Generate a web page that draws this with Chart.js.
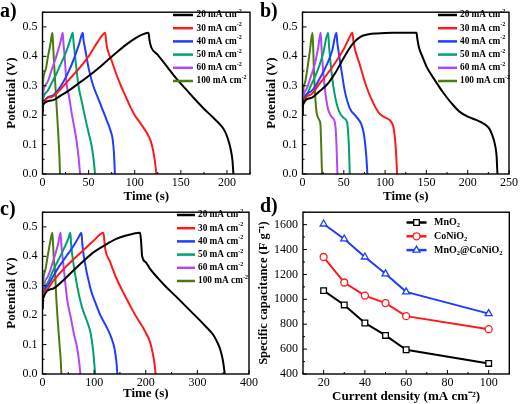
<!DOCTYPE html>
<html>
<head>
<meta charset="utf-8">
<script src="https://cdn.jsdelivr.net/npm/chart.js@4.4.0/dist/chart.umd.min.js"></script>
<style>
  body { margin: 0; background: #fff; }
  #wrap { position: relative; width: 520px; height: 404px; background: #fff; overflow: hidden; }
  canvas { position: absolute; }
  .tag { position: absolute; font: bold 20px "Liberation Serif", serif; line-height: 20px; color: #000; }
</style>
</head>
<body>
<div id="wrap">
  <canvas id="chart-a" width="260" height="204" style="left:0;top:0"></canvas>
  <canvas id="chart-b" width="260" height="204" style="left:260px;top:0"></canvas>
  <canvas id="chart-c" width="260" height="204" style="left:0;top:200px"></canvas>
  <canvas id="chart-d" width="266" height="204" style="left:254px;top:200px"></canvas>
  <div class="tag" style="left:0;top:0">a)</div>
  <div class="tag" style="left:260px;top:0">b)</div>
  <div class="tag" style="left:0;top:198px">c)</div>
  <div class="tag" style="left:260px;top:195px">d)</div>
</div>
<script>
/*
 * charge / discharge curves (time s, potential V)
 */

// a) MnO2
const a20 = [[0,0.21],[0.5,0.235],[10,0.25],[20,0.267],[30,0.287],[40,0.31],[50,0.333],[60,0.358],[70,0.385],[80,0.412],[90,0.438],[100,0.46],[108,0.474],[115,0.48],[116,0.455],[118,0.43],[125,0.405],[135,0.365],[145,0.325],[155,0.29],[165,0.255],[175,0.222],[185,0.192],[192,0.17],[197,0.15],[201,0.12],[204,0.085],[206,0.045],[207,0]];
const a30 = [[0,0.2],[0.5,0.235],[10,0.262],[20,0.29],[30,0.325],[40,0.36],[50,0.4],[55,0.425],[60,0.45],[65,0.472],[68,0.48],[69,0.45],[70,0.43],[75,0.385],[80,0.34],[85,0.3],[90,0.265],[95,0.23],[100,0.2],[105,0.178],[110,0.155],[114,0.135],[117,0.115],[120,0.08],[122,0.04],[123.5,0]];
const a40 = [[0,0.2],[0.5,0.235],[10,0.265],[20,0.3],[30,0.36],[35,0.4],[40,0.445],[43.6,0.48],[44.5,0.455],[46,0.43],[50,0.36],[55,0.3],[60,0.26],[65,0.22],[70,0.18],[74,0.145],[76,0.12],[77.5,0.07],[78.5,0]];
const a50 = [[0,0.22],[0.5,0.25],[5,0.28],[10,0.31],[15,0.34],[20,0.375],[25,0.41],[30,0.455],[32.8,0.48],[33.5,0.455],[35,0.41],[39,0.3],[43,0.24],[46,0.195],[50,0.14],[53,0.1],[55,0.06],[57,0]];
const a60 = [[0,0.22],[0.5,0.27],[5,0.31],[10,0.355],[15,0.4],[20,0.455],[21.9,0.48],[22.6,0.45],[24,0.4],[26,0.31],[29,0.26],[32,0.2],[35,0.15],[37,0.11],[39,0.06],[40.8,0]];
const a100 = [[0,0.2],[0.3,0.3],[3,0.35],[6,0.4],[9,0.45],[10.7,0.48],[11.5,0.44],[12.5,0.38],[14,0.3],[15.5,0.22],[17,0.14],[18.2,0.07],[19,0]];

// b) CoNiO2
const b20 = [[0,0.2],[0.5,0.235],[10,0.258],[20,0.28],[30,0.305],[40,0.345],[50,0.395],[60,0.44],[70,0.466],[80,0.475],[90,0.478],[110,0.48],[138,0.48],[139,0.46],[141,0.43],[145,0.4],[150,0.366],[160,0.32],[170,0.278],[180,0.242],[190,0.212],[200,0.195],[210,0.184],[220,0.17],[226,0.155],[230,0.13],[233,0.1],[235,0.06],[236,0]];
const b30 = [[0,0.2],[0.5,0.235],[10,0.27],[20,0.305],[30,0.34],[40,0.38],[50,0.425],[57,0.465],[60.4,0.48],[61.5,0.455],[63,0.43],[69,0.375],[77,0.3],[85,0.245],[93,0.206],[100,0.192],[106,0.182],[110,0.16],[112,0.12],[113.5,0.06],[114.5,0]];
const b40 = [[0,0.2],[0.5,0.235],[10,0.28],[20,0.32],[30,0.375],[36,0.42],[41,0.48],[42,0.45],[44,0.41],[47,0.355],[51,0.285],[57,0.225],[65,0.195],[71,0.17],[74,0.14],[76,0.1],[77.5,0.05],[78.5,0]];
const b50 = [[0,0.2],[0.5,0.24],[5,0.27],[10,0.3],[15,0.33],[20,0.365],[25,0.41],[31,0.48],[32,0.44],[35,0.35],[39,0.27],[44,0.215],[50,0.19],[54,0.175],[55.5,0.13],[56.5,0.07],[57.2,0]];
const b60 = [[0,0.2],[0.5,0.245],[5,0.29],[10,0.33],[15,0.375],[19,0.43],[22,0.48],[23,0.43],[25,0.35],[28,0.27],[31,0.22],[35,0.195],[39,0.178],[40.5,0.14],[41.5,0.07],[42.3,0]];
const b100 = [[0,0.2],[0.3,0.26],[3,0.31],[6,0.36],[9,0.42],[12,0.48],[12.8,0.44],[14,0.34],[15.5,0.26],[17,0.21],[20,0.185],[21.8,0.165],[22.6,0.1],[23.2,0.04],[23.6,0]];

// c) MnO2@CoNiO2
const c20 = [[0,0.22],[1,0.255],[20,0.29],[40,0.318],[60,0.352],[80,0.385],[100,0.415],[120,0.437],[144,0.46],[160,0.47],[176,0.477],[189,0.48],[191,0.45],[193,0.4],[200,0.38],[208,0.358],[224,0.325],[240,0.295],[256,0.268],[272,0.24],[288,0.212],[304,0.184],[318,0.158],[330,0.135],[338,0.11],[344,0.085],[349,0.05],[352,0.015],[353,0]];
const c30 = [[0,0.22],[1,0.255],[10,0.29],[20,0.315],[40,0.355],[60,0.39],[80,0.422],[100,0.455],[118,0.48],[120,0.45],[122,0.42],[130,0.385],[144,0.322],[160,0.265],[176,0.212],[186,0.182],[195,0.157],[203,0.13],[208,0.11],[213,0.075],[217,0.035],[219,0]];
const c40 = [[0,0.22],[1,0.26],[10,0.3],[20,0.33],[30,0.36],[40,0.385],[50,0.41],[60,0.435],[70,0.465],[75.5,0.48],[77,0.445],[80,0.4],[93,0.29],[103,0.24],[112,0.2],[125,0.157],[134,0.12],[139,0.09],[143,0.045],[145,0]];
const c50 = [[0,0.22],[1,0.265],[10,0.31],[20,0.35],[30,0.385],[40,0.42],[50,0.46],[54,0.48],[55.5,0.44],[58,0.4],[67,0.3],[76,0.23],[86,0.18],[93,0.14],[98,0.08],[102,0]];
const c60 = [[0,0.22],[1,0.275],[10,0.33],[20,0.38],[30,0.44],[35,0.48],[36.5,0.44],[40,0.38],[48,0.25],[55,0.19],[61,0.135],[67,0.09],[71,0.04],[73.5,0]];
const c100 = [[0,0.22],[0.7,0.3],[5,0.35],[10,0.4],[15,0.45],[19,0.48],[20.5,0.44],[22,0.39],[24,0.355],[27,0.25],[30,0.17],[33,0.1],[35.5,0.04],[36.5,0]];

// d) specific capacitance vs current density
const densities = [20, 30, 40, 50, 60, 100];
const capMnO2 = [1070, 955, 810, 710, 595, 485];
const capCoNiO2 = [1340, 1135, 1030, 970, 865, 760];
const capHybrid = [1605, 1485, 1340, 1205, 1060, 885];

const currents = ["20", "30", "40", "50", "60", "100"];
const potentialTicks = [0, 0.1, 0.2, 0.3, 0.4, 0.5];
const aTimeTicks = [0, 50, 100, 150, 200];
const bTimeTicks = [0, 50, 100, 150, 200, 250];
const cTimeTicks = [0, 100, 200, 300, 400];
const densityTicks = [20, 40, 60, 80, 100];
const capTicks = [400, 600, 800, 1000, 1200, 1400, 1600];

const gcdColors = ["#000000", "#ff1a1a", "#1f3dff", "#00a071", "#b347f5", "#4b7a12"];
const FONT = '"Liberation Serif", "Times New Roman", serif';


// text with ^{..} and _{..} pieces
function drawRich(ctx, text, x, y, size){
    const parts = text.split(/(\^\{[^}]*\}|_\{[^}]*\})/);
    let cx = x;
    parts.forEach(p => {
        if(!p){ return; }
        let s = size, dy = 0, str = p;
        if(p.startsWith("^{")){ s = size * 0.65; dy = -size * 0.38; str = p.slice(2, -1); }
        else if(p.startsWith("_{")){ s = size * 0.65; dy = size * 0.28; str = p.slice(2, -1); }
        ctx.font = "bold " + s + "px " + FONT;
        ctx.fillText(str, cx, y + dy);
        cx += ctx.measureText(str).width;
    });
}


// legend inside the plot
const panelLegend = {
    id: "panelLegend",
    afterDraw(chart, args, opts){
        const ctx = chart.ctx;
        ctx.save();
        ctx.textBaseline = "middle";
        ctx.fillStyle = "#000";
        chart.data.datasets.forEach((ds, i) => {
            const y = opts.y0 + i * opts.dy;
            ctx.strokeStyle = ds.borderColor;
            ctx.lineWidth = 2.5;
            ctx.beginPath();
            ctx.moveTo(opts.x0, y);
            ctx.lineTo(opts.x0 + opts.len, y);
            ctx.stroke();
            if(ds.pointRadius){
                ctx.lineWidth = ds.pointBorderWidth;
                ctx.fillStyle = "#fff";
                Chart.helpers.drawPoint(ctx, {
                    pointStyle: ds.pointStyle,
                    radius: ds.pointRadius,
                    borderWidth: ds.pointBorderWidth,
                    rotation: 0
                }, opts.x0 + opts.len / 2, y);
            }
            ctx.fillStyle = "#000";
            drawRich(ctx, ds.label, opts.textX, y, opts.size);
        });
        ctx.restore();
    }
};


// box round the plot, inward major and minor ticks
const frameTicks = {
    id: "frameTicks",
    afterDatasetsDraw(chart, args, opts){
        const {ctx, chartArea, scales} = chart;
        const {left, right, top, bottom} = chartArea;
        ctx.save();
        ctx.strokeStyle = "#000";
        ctx.lineWidth = 1.4;
        ctx.strokeRect(left, top, right - left, bottom - top);
        ctx.lineWidth = 1;
        ctx.beginPath();
        const isMajor = (sc, v) => sc.ticks.some(t => Math.abs(t.value - v) < 1e-6);
        for(let i = 0; ; i++){
            const v = scales.x.min + i * opts.xMinor;
            if(v > scales.x.max + 1e-9){ break; }
            const px = scales.x.getPixelForValue(v);
            const len = isMajor(scales.x, v) ? 4 : 2;
            ctx.moveTo(px, bottom);
            ctx.lineTo(px, bottom - len);
        }
        for(let i = 0; ; i++){
            const v = scales.y.min + i * opts.yMinor;
            if(v > scales.y.max + 1e-9){ break; }
            const py = scales.y.getPixelForValue(v);
            const len = isMajor(scales.y, v) ? 4 : 2;
            ctx.moveTo(left, py);
            ctx.lineTo(left + len, py);
        }
        ctx.stroke();
        ctx.restore();
    }
};


function axisX(min, max, ticks, title, yFit, titlePad){
    return {
        type: "linear",
        min: min,
        max: max,
        afterBuildTicks: s => { s.ticks = ticks.map(v => ({value: v})); },
        afterFit: s => { s.height = yFit; },
        grid: {display: false, drawTicks: false},
        border: {display: false},
        ticks: {
            padding: 2, color: "#000", autoSkip: false, maxRotation: 0,
            font: {family: FONT, size: 12},
            callback: v => String(v)
        },
        title: {
            display: true, text: title, color: "#000",
            font: {family: FONT, size: 13, weight: "bold"},
            padding: {top: 0, bottom: titlePad}
        }
    };
}


function axisY(min, max, ticks, title, width, fmt, size, titlePad){
    return {
        min: min,
        max: max,
        afterBuildTicks: s => { s.ticks = ticks.map(v => ({value: v})); },
        afterFit: s => { s.width = width; },
        grid: {display: false, drawTicks: false},
        border: {display: false},
        ticks: {
            padding: 5, color: "#000", autoSkip: false,
            font: {family: FONT, size: 12},
            callback: fmt
        },
        title: {
            display: true, text: title, color: "#000",
            font: {family: FONT, size: size, weight: "bold"},
            padding: {top: titlePad, bottom: 0}
        }
    };
}


function gcdChart(id, curves, xMax, xTicks, xMinor, legendPos, titlePad){
    return new Chart(document.getElementById(id), {
        type: "line",
        data: {
            datasets: curves.map((pts, i) => ({
                label: currents[i] + " mA cm^{-2}",
                data: pts.map(p => ({x: p[0], y: p[1]})),
                borderColor: gcdColors[i],
                borderWidth: 2,
                pointRadius: 0,
                cubicInterpolationMode: "monotone"
            }))
        },
        options: {
            responsive: false,
            animation: false,
            layout: {padding: {top: 7.5, right: 10, bottom: 0, left: 0}},
            plugins: {
                legend: {display: false},
                tooltip: {enabled: false},
                panelLegend: legendPos,
                frameTicks: {xMinor: xMinor, yMinor: 0.05}
            },
            scales: {
                x: axisX(0, xMax, xTicks, "Time (s)", 30, titlePad),
                y: axisY(0, 0.55, potentialTicks, "Potential (V)", 42.5, v => v.toFixed(1), 13, 4)
            }
        },
        plugins: [frameTicks, panelLegend]
    });
}


gcdChart("chart-a", [a20, a30, a40, a50, a60, a100], 225, aTimeTicks, 25,
    {x0: 173, len: 20, textX: 196.5, y0: 15, dy: 13.2, size: 9.3}, 0);

gcdChart("chart-b", [b20, b30, b40, b50, b60, b100], 250, bTimeTicks, 25,
    {x0: 178, len: 19, textX: 200, y0: 15, dy: 13.2, size: 9.3}, 0);

gcdChart("chart-c", [c20, c30, c40, c50, c60, c100], 400, cTimeTicks, 50,
    {x0: 177, len: 18, textX: 198, y0: 15, dy: 13.2, size: 9.3}, 3);


const capSeries = [
    {label: "MnO_{2}", values: capMnO2, color: "#000000", style: "rect", r: 4},
    {label: "CoNiO_{2}", values: capCoNiO2, color: "#ff1a1a", style: "circle", r: 3.5},
    {label: "MnO_{2}@CoNiO_{2}", values: capHybrid, color: "#1f3dff", style: "triangle", r: 4}
];

new Chart(document.getElementById("chart-d"), {
    type: "line",
    data: {
        datasets: capSeries.map(s => ({
            label: s.label,
            data: densities.map((d, i) => ({x: d, y: s.values[i]})),
            borderColor: s.color,
            borderWidth: 2,
            pointStyle: s.style,
            pointRadius: s.r,
            pointBorderWidth: 1.3,
            pointBorderColor: s.color,
            pointBackgroundColor: "#ffffff",
            tension: 0
        }))
    },
    options: {
        responsive: false,
        animation: false,
        layout: {padding: {top: 7.2, right: 10.7, bottom: 0, left: 0}},
        plugins: {
            legend: {display: false},
            tooltip: {enabled: false},
            panelLegend: {x0: 152.5, len: 20, textX: 180, y0: 22.5, dy: 13.8, size: 10},
            frameTicks: {xMinor: 10, yMinor: 100}
        },
        scales: {
            x: axisX(10, 110, densityTicks, "Current density (mA cm\u207B\u00B2)", 30, 0),
            y: axisY(400, 1700, capTicks, "Specific capacitance (F g\u207B\u00B9)", 49, v => String(v), 12.5, 2.5)
        }
    },
    plugins: [frameTicks, panelLegend]
});
</script>
</body>
</html>
